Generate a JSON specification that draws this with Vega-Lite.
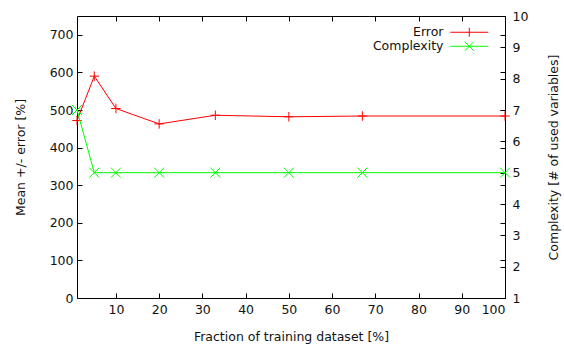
{
  "$schema": "https://vega.github.io/schema/vega-lite/v6.json",
  "width": 428,
  "height": 282,
  "autosize": {"type": "none"},
  "padding": {"left": 77, "top": 16, "right": 59, "bottom": 49},
  "background": "white",
  "config": {
    "view": {"stroke": "#000000", "strokeWidth": 1},
    "font": "DejaVu Sans",
    "axis": {
      "grid": false,
      "domain": false,
      "tickColor": "#000000",
      "tickSize": -5,
      "labelFont": "DejaVu Sans",
      "labelFontSize": 12.5,
      "labelColor": "#111111",
      "titleFont": "DejaVu Sans",
      "titleFontSize": 12.5,
      "titleFontWeight": "normal",
      "titleColor": "#111111"
    }
  },
  "data": {
    "values": [
      {"x": 1, "series": "Error", "value": 472},
      {"x": 5, "series": "Error", "value": 590},
      {"x": 10, "series": "Error", "value": 504},
      {"x": 20, "series": "Error", "value": 463},
      {"x": 33, "series": "Error", "value": 486},
      {"x": 50, "series": "Error", "value": 482},
      {"x": 67, "series": "Error", "value": 484},
      {"x": 100, "series": "Error", "value": 484},
      {"x": 1, "series": "Complexity", "value": 7},
      {"x": 5, "series": "Complexity", "value": 5},
      {"x": 10, "series": "Complexity", "value": 5},
      {"x": 20, "series": "Complexity", "value": 5},
      {"x": 33, "series": "Complexity", "value": 5},
      {"x": 50, "series": "Complexity", "value": 5},
      {"x": 67, "series": "Complexity", "value": 5},
      {"x": 100, "series": "Complexity", "value": 5}
    ]
  },
  "encoding": {
    "x": {"field": "x", "type": "quantitative", "scale": {"domain": [1, 100], "nice": false, "zero": false}},
    "color": {
      "field": "series", "type": "nominal",
      "scale": {"domain": ["Error", "Complexity"], "range": ["#ff0000", "#00ff00"]},
      "legend": {
        "title": null,
        "orient": "none",
        "legendX": 386,
        "legendY": 10,
        "padding": 0,
        "symbolSize": 100,
        "symbolStrokeWidth": 1,
        "symbolFillColor": "transparent",
        "labelAlign": "right",
        "labelOffset": -32,
        "labelFontSize": 12.5,
        "labelFont": "DejaVu Sans",
        "labelColor": "#111111",
        "rowPadding": 0,
        "encode": {
          "symbols": {
            "update": {
              "shape": {"signal": "datum.value === 'Error' ? 'M-3.8,0H3.8M0,-0.9V0.9' : 'M-3.8,0H3.8M-0.9,-0.9L0.9,0.9M-0.9,0.9L0.9,-0.9'"},
              "fill": {"value": "transparent"},
              "strokeWidth": {"value": 1}
            }
          }
        }
      }
    }
  },
  "layer": [
    {
      "transform": [{"filter": "datum.series === 'Error'"}],
      "mark": {"type": "line", "strokeWidth": 1},
      "encoding": {
        "x": {"field": "x", "type": "quantitative", "axis": {"orient": "bottom", "values": [10, 20, 30, 40, 50, 60, 70, 80, 90, 100], "title": "Fraction of training dataset [%]", "labelPadding": 10, "titlePadding": 15}},
        "y": {"field": "value", "type": "quantitative", "scale": {"domain": [0, 750], "nice": false, "zero": false}, "axis": {"orient": "left", "values": [0, 100, 200, 300, 400, 500, 600, 700], "title": "Mean +/- error [%]", "labelPadding": 9, "titlePadding": 22}}
      }
    },
    {
      "transform": [{"filter": "datum.series === 'Error'"}],
      "mark": {"type": "point", "shape": "M-1,0H1M0,-1V1", "filled": false, "size": 90, "strokeWidth": 1, "opacity": 1},
      "encoding": {
        "x": {"field": "x", "type": "quantitative", "axis": {"orient": "top", "values": [10, 20, 30, 40, 50, 60, 70, 80, 90, 100], "labels": false, "title": null}},
        "y": {"field": "value", "type": "quantitative", "scale": {"domain": [0, 750], "nice": false, "zero": false}, "axis": {"orient": "right", "values": [0, 100, 200, 300, 400, 500, 600, 700], "labels": false, "title": null}}
      }
    },
    {
      "transform": [{"filter": "datum.series === 'Complexity'"}],
      "mark": {"type": "line", "strokeWidth": 1},
      "encoding": {
        "x": {"field": "x", "type": "quantitative", "axis": null},
        "y": {"field": "value", "type": "quantitative", "scale": {"domain": [1, 10], "nice": false, "zero": false}, "axis": {"orient": "right", "values": [1, 2, 3, 4, 5, 6, 7, 8, 9, 10], "title": "Complexity [# of used variables]", "titleAngle": 270, "labelPadding": 12, "titlePadding": 33}}
      }
    },
    {
      "transform": [{"filter": "datum.series === 'Complexity'"}],
      "mark": {"type": "point", "shape": "M-1,-1L1,1M-1,1L1,-1", "filled": false, "size": 100, "strokeWidth": 1, "opacity": 1},
      "encoding": {
        "x": {"field": "x", "type": "quantitative", "axis": null},
        "y": {"field": "value", "type": "quantitative", "scale": {"domain": [1, 10], "nice": false, "zero": false}, "axis": null}
      }
    }
  ],
  "resolve": {"scale": {"y": "independent"}, "axis": {"x": "independent"}}
}
